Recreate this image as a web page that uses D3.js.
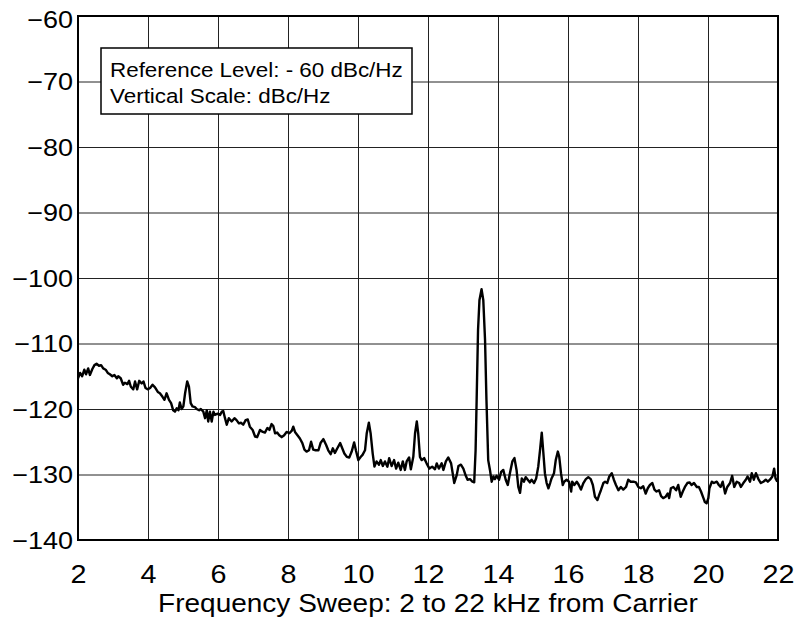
<!DOCTYPE html>
<html>
<head>
<meta charset="utf-8">
<script src="https://cdn.jsdelivr.net/npm/d3@7"></script>
<style>
  html, body { margin: 0; padding: 0; background: #fff; }
  svg { display: block; }
</style>
</head>
<body>
<svg id="chart" width="796" height="623"></svg>
<script>
// ---------- data ----------
const xTicks = [2, 4, 6, 8, 10, 12, 14, 16, 18, 20, 22];
const yTicks = [-140, -130, -120, -110, -100, -90, -80, -70, -60];
const legendLines = ["Reference Level: - 60 dBc/Hz", "Vertical Scale: dBc/Hz"];
const xTitle = "Frequency Sweep: 2 to 22 kHz from Carrier";

// trace: [kHz from carrier, dBc/Hz]
const trace = [
[2.00,-115.3],[2.06,-114.5],[2.12,-115.0],[2.18,-114.0],[2.23,-114.7],[2.29,-113.8],[2.34,-114.8],[2.41,-113.9],
[2.47,-113.3],[2.53,-113.1],[2.60,-113.4],[2.66,-113.3],[2.72,-113.8],[2.79,-114.0],[2.85,-114.5],[2.91,-114.7],
[2.98,-115.0],[3.04,-114.8],[3.11,-115.3],[3.15,-115.0],[3.22,-115.3],[3.29,-116.3],[3.34,-116.0],[3.41,-116.2],
[3.46,-115.7],[3.51,-116.6],[3.58,-117.0],[3.63,-115.8],[3.69,-117.0],[3.75,-115.7],[3.82,-116.1],[3.87,-115.8],
[3.93,-116.8],[3.99,-117.0],[4.06,-116.8],[4.13,-116.3],[4.20,-116.7],[4.28,-117.4],[4.34,-117.6],[4.41,-118.1],
[4.47,-118.6],[4.53,-117.6],[4.60,-118.6],[4.66,-119.1],[4.72,-120.2],[4.77,-120.4],[4.82,-119.9],[4.87,-120.2],
[4.91,-119.0],[4.96,-120.0],[5.01,-119.6],[5.06,-117.6],[5.12,-115.8],[5.17,-116.6],[5.22,-119.1],[5.27,-119.6],
[5.34,-119.7],[5.39,-120.0],[5.46,-120.2],[5.51,-120.0],[5.58,-120.4],[5.63,-121.4],[5.68,-120.2],[5.72,-121.9],
[5.77,-120.4],[5.82,-121.9],[5.87,-120.4],[5.91,-120.9],[5.99,-120.7],[6.06,-120.9],[6.11,-120.4],[6.15,-120.3],
[6.20,-121.4],[6.25,-122.4],[6.31,-121.4],[6.39,-121.9],[6.47,-121.4],[6.53,-121.7],[6.60,-122.2],[6.66,-122.1],
[6.72,-122.4],[6.79,-121.7],[6.85,-121.6],[6.91,-122.7],
[6.99,-123.2],[7.06,-124.2],[7.12,-124.3],[7.20,-123.2],[7.28,-123.5],[7.34,-123.6],[7.41,-122.9],[7.47,-123.2],
[7.53,-122.3],[7.58,-122.6],[7.63,-123.7],[7.69,-123.6],[7.75,-124.0],[7.82,-124.3],[7.89,-124.0],[7.96,-123.5],
[8.04,-123.7],[8.11,-123.3],[8.15,-122.7],[8.20,-123.5],[8.27,-124.0],[8.34,-124.5],[8.41,-125.2],[8.47,-126.2],
[8.53,-126.5],[8.60,-126.3],[8.66,-125.0],[8.72,-126.2],[8.79,-126.3],[8.87,-126.3],[8.93,-125.2],[9.01,-124.6],
[9.09,-125.5],[9.15,-126.3],[9.22,-126.9],[9.28,-126.0],[9.34,-126.7],[9.41,-126.0],[9.49,-125.2],[9.55,-126.0],
[9.61,-126.8],[9.68,-127.3],[9.75,-127.4],[9.82,-126.5],[9.89,-125.1],[9.94,-126.3],[10.01,-127.8],[10.08,-127.3],
[10.13,-127.0],[10.20,-126.3],[10.25,-123.7],[10.31,-122.1],[10.36,-123.7],[10.42,-126.8],[10.47,-128.8],[10.53,-128.0],
[10.60,-128.5],[10.65,-127.8],[10.71,-128.7],[10.77,-128.0],[10.84,-128.8],[10.89,-127.5],[10.96,-128.7],[11.03,-127.8],
[11.09,-129.1],[11.15,-128.2],[11.22,-129.3],[11.28,-128.0],[11.34,-129.3],[11.39,-128.0],[11.46,-127.4],[11.51,-129.2],
[11.58,-127.3],[11.63,-123.7],[11.68,-121.9],[11.72,-123.7],[11.77,-127.3],[11.82,-127.8],[11.89,-127.5],[11.96,-128.3],
[12.04,-129.1],
[12.12,-128.8],[12.20,-129.2],[12.25,-128.3],[12.31,-129.1],[12.39,-128.3],[12.44,-129.3],[12.51,-128.0],[12.58,-127.4],
[12.66,-128.3],[12.72,-130.3],[12.75,-131.3],[12.82,-130.1],[12.87,-128.7],[12.94,-128.5],[13.01,-129.1],[13.08,-130.2],
[13.13,-130.8],[13.20,-130.7],[13.27,-131.1],[13.32,-131.2],[13.36,-126.3],[13.39,-118.6],[13.43,-107.9],[13.47,-103.4],
[13.53,-101.7],[13.58,-103.4],[13.63,-109.5],[13.67,-118.6],[13.72,-127.8],[13.77,-129.3],[13.82,-131.1],[13.87,-130.3],
[13.91,-130.7],[13.96,-130.2],[14.03,-130.8],[14.09,-129.6],[14.15,-129.3],[14.22,-130.8],[14.28,-131.6],[14.34,-129.8],
[14.41,-128.0],[14.47,-127.5],[14.53,-129.3],[14.58,-131.9],[14.63,-132.8],[14.68,-130.6],[14.74,-131.1],[14.79,-130.4],
[14.85,-130.8],[14.91,-131.2],[14.96,-130.8],[15.03,-131.3],[15.09,-130.6],[15.15,-128.8],[15.20,-126.3],[15.25,-123.6],
[15.29,-126.3],[15.34,-129.8],[15.39,-131.3],[15.44,-132.1],[15.49,-131.3],[15.53,-130.6],[15.60,-129.8],[15.65,-127.8],
[15.71,-126.5],[15.75,-127.3],[15.80,-129.8],[15.85,-131.6],[15.89,-131.1],[15.96,-130.8],[16.03,-131.1],[16.09,-132.6],
[16.12,-131.1],[16.18,-131.6],[16.25,-131.1],[16.31,-131.6],[16.37,-132.3],[16.44,-131.3],[16.51,-130.7],[16.58,-130.4],
[16.65,-130.7],[16.71,-131.6],[16.77,-133.4],[16.84,-133.9],[16.89,-133.1],[16.94,-132.4],[17.01,-131.3],
[17.06,-131.1],[17.12,-131.3],[17.18,-130.3],[17.25,-129.8],[17.31,-130.8],[17.37,-131.6],[17.44,-132.4],[17.51,-131.9],
[17.58,-132.3],[17.66,-131.9],[17.72,-130.8],[17.79,-131.1],[17.87,-131.1],[17.94,-131.2],[18.01,-131.9],[18.08,-132.1],
[18.15,-131.8],[18.22,-132.9],[18.28,-132.1],[18.34,-131.6],[18.41,-131.3],[18.47,-132.3],[18.53,-132.6],[18.60,-132.4],
[18.66,-133.3],[18.72,-133.6],[18.79,-133.4],[18.85,-132.9],[18.89,-133.6],[18.94,-132.1],[19.01,-131.9],[19.09,-132.4],
[19.15,-131.6],[19.22,-133.4],[19.28,-132.6],[19.34,-131.9],[19.41,-131.3],[19.47,-131.2],[19.53,-131.6],[19.60,-131.3],
[19.68,-131.9],[19.74,-131.9],[19.80,-132.6],[19.87,-133.6],[19.91,-134.2],[19.96,-134.4],[20.01,-133.6],[20.04,-132.1],
[20.11,-131.1],[20.17,-131.3],[20.25,-131.1],[20.31,-131.6],[20.36,-131.9],[20.42,-131.1],[20.49,-132.9],[20.55,-131.9],
[20.63,-131.3],[20.69,-130.2],[20.75,-131.9],[20.82,-131.1],[20.89,-131.3],[20.94,-131.9],[21.01,-131.3],[21.08,-130.8],
[21.13,-130.3],[21.20,-131.1],[21.25,-129.8],[21.31,-130.8],[21.37,-129.8],[21.44,-130.7],[21.51,-131.3],[21.58,-131.1],
[21.65,-130.8],[21.71,-131.1],[21.77,-130.8],[21.84,-130.3],[21.89,-129.1],[21.93,-130.6],[21.98,-131.1]
];

// ---------- layout ----------
const plotL = 78, plotR = 778, plotT = 16, plotB = 540;
const FONT = "'Liberation Sans', Arial, Helvetica, sans-serif";
const SX = 1.15; // horizontal glyph stretch seen in the reference

const svg = d3.select("#chart");
const x = d3.scaleLinear().domain([2, 22]).range([plotL, plotR]);
const y = d3.scaleLinear().domain([-140, -60]).range([plotB, plotT]);

// x grid + labels
const gx = svg.append("g")
  .attr("transform", `translate(0,${plotB})`)
  .call(d3.axisBottom(x).tickValues(xTicks).tickSize(-(plotB - plotT)).tickPadding(0).tickFormat(d3.format("d")));
gx.select(".domain").remove();
gx.attr("font-family", FONT).attr("font-size", 25);
gx.selectAll(".tick line").attr("stroke", "#222").attr("stroke-width", 1);
gx.selectAll(".tick text")
  .attr("y", null).attr("dy", null)
  .attr("fill", "#000")
  .attr("transform", `translate(0,43) scale(${SX},1)`);

// y grid + labels
const gy = svg.append("g")
  .attr("transform", `translate(${plotL},0)`)
  .call(d3.axisLeft(y).tickValues(yTicks).tickSize(-(plotR - plotL)).tickPadding(0).tickFormat(d3.format("d")));
gy.select(".domain").remove();
gy.attr("font-family", FONT).attr("font-size", 23.5);
gy.selectAll(".tick line").attr("stroke", "#222").attr("stroke-width", 1);
gy.selectAll(".tick text")
  .attr("x", null).attr("dy", null)
  .attr("fill", "#000")
  .attr("transform", d => `translate(-5,${d === -60 ? 11.5 : 8.3}) scale(${SX},1)`);

// plot border
svg.append("rect")
  .attr("x", plotL).attr("y", plotT)
  .attr("width", plotR - plotL).attr("height", plotB - plotT)
  .attr("fill", "none").attr("stroke", "#000").attr("stroke-width", 2);

// legend box
const lg = svg.append("g");
lg.append("rect")
  .attr("x", 101).attr("y", 48).attr("width", 311).attr("height", 66)
  .attr("fill", "#fff").attr("stroke", "#000").attr("stroke-width", 1.5);
lg.selectAll("text").data(legendLines).join("text")
  .attr("transform", (d, i) => `translate(110,${76.7 + i * 26}) scale(${SX},1)`)
  .attr("font-family", FONT).attr("font-size", 19.5).attr("fill", "#000")
  .text(d => d);

// trace
const line = d3.line().x(d => x(d[0])).y(d => y(d[1]));
svg.append("path")
  .datum(trace)
  .attr("d", line)
  .attr("fill", "none").attr("stroke", "#000").attr("stroke-width", 2.4)
  .attr("stroke-linejoin", "round");

// x axis title
svg.append("text")
  .attr("transform", `translate(${(plotL + plotR) / 2},612) scale(1.12,1)`)
  .attr("text-anchor", "middle")
  .attr("font-family", FONT).attr("font-size", 25).attr("fill", "#000")
  .text(xTitle);
</script>
</body>
</html>
